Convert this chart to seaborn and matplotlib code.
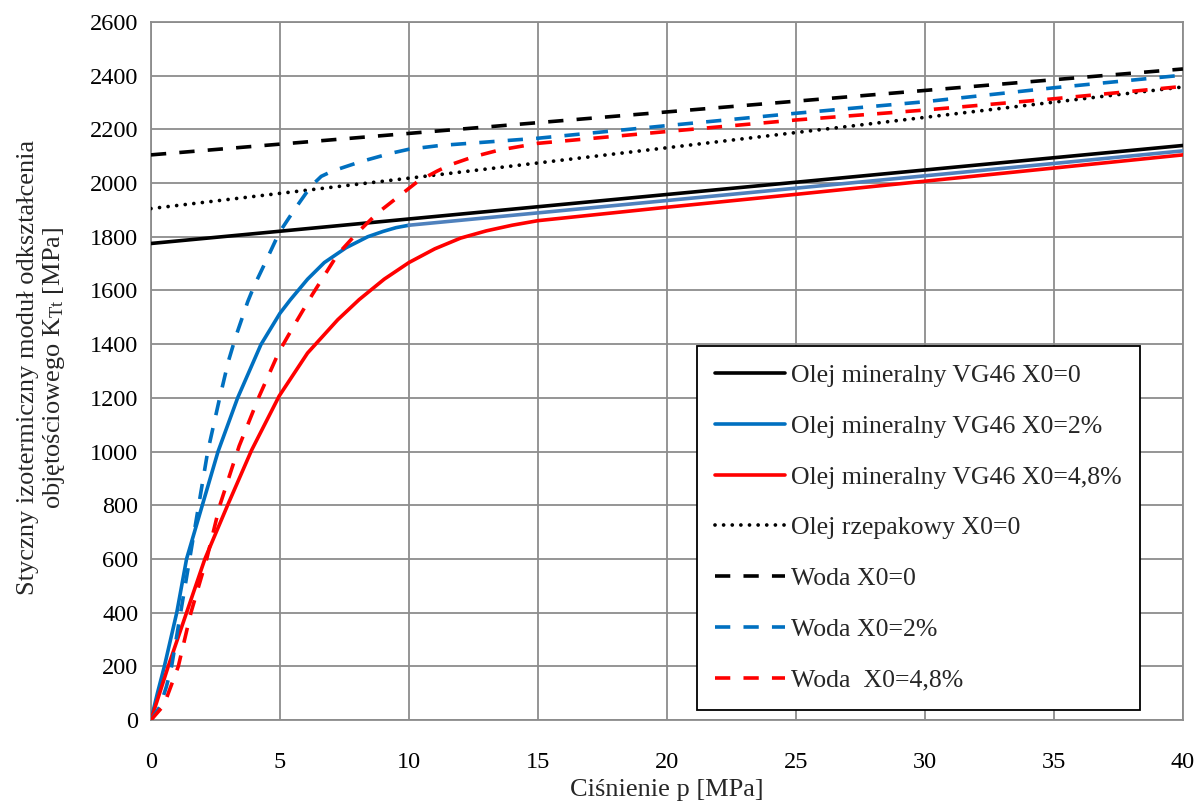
"""
Styczny izotermiczny moduł odkształcenia objętościowego vs ciśnienie
"""

import numpy as np
import pandas as pd
import matplotlib
matplotlib.use("Agg")
import matplotlib.pyplot as plt
import seaborn as sns

# Data (p [MPa], K_Tt [MPa])
p_lin = [0, 40]
k_mineral_0 = [1775, 2140]
k_rapeseed_0 = [1905, 2358]
k_water_0 = [2105, 2425]

p_mineral_2 = [0, 0.25, 0.52, 1.0, 1.38, 1.99, 2.6, 3.36, 4.26, 5.0, 5.4, 6.07, 6.72,
               7.56, 8.4, 9.0, 9.5, 10.0]
k_mineral_2 = [0, 100, 200, 400, 600, 800, 1000, 1200, 1398, 1515, 1565, 1642, 1704,
               1759, 1800, 1820, 1834, 1843]
p_mineral_2_tail = [10, 15, 20, 25, 30, 35, 40]
k_mineral_2_tail = [1843, 1889, 1935, 1981, 2027, 2073, 2120]

p_mineral_48 = [0, 0.67, 1.38, 2.09, 2.97, 3.9, 4.97, 6.07, 7.24, 8.07, 9.04, 10.0,
                11.0, 12.0, 13.0, 14.0, 15.0, 20, 25, 30, 35, 40]
k_mineral_48 = [0, 200, 400, 600, 800, 1005, 1207, 1367, 1491, 1566, 1642, 1704,
                1755, 1795, 1822, 1843, 1860, 1910, 1958, 2007, 2056, 2105]

p_water_2 = [0, 0.35, 0.6, 0.8, 1.15, 1.5, 1.85, 2.2, 2.65, 3.0, 3.29, 3.75, 4.0, 4.46,
             4.97, 5.56, 6.2, 6.6, 7.04, 8.14, 9.3, 10.0, 11.2, 15, 20, 25, 30, 35, 40]
k_water_2 = [0, 50, 125, 200, 400, 600, 800, 1000, 1194, 1336, 1429, 1558, 1617, 1710,
             1815, 1901, 1988, 2025, 2045, 2080, 2111, 2126, 2140, 2167, 2214, 2260,
             2303, 2355, 2402]

p_water_48 = [0, 0.5, 1.06, 1.55, 2.16, 2.67, 3.42, 4.2, 4.97, 5.56, 6.25, 7.24, 8.0,
              8.79, 9.69, 10.34, 11.1, 11.6, 12.5, 13.5, 15, 20, 25, 30, 35, 40]
k_water_48 = [0, 55, 200, 400, 600, 800, 1021, 1207, 1373, 1472, 1584, 1735, 1815,
              1889, 1957, 2006, 2045, 2068, 2098, 2123, 2148, 2192, 2235, 2272, 2314,
              2360]

series_names = [
    "Olej mineralny VG46 X0=0",
    "Olej mineralny VG46 X0=2%",
    "Olej mineralny VG46 X0=4,8%",
    "Olej rzepakowy X0=0",
    "Woda X0=0",
    "Woda X0=2%",
    "Woda  X0=4,8%",
]

BLUE = "#0070C0"
RED = "#FF0000"

sns.set_style("white")
plt.rcParams["font.family"] = ["Liberation Serif", "DejaVu Serif"]
plt.rcParams["mathtext.fontset"] = "custom"
plt.rcParams["mathtext.rm"] = "Liberation Serif"
plt.rcParams["mathtext.it"] = "Liberation Serif:italic"
plt.rcParams["lines.scale_dashes"] = False

fig = plt.figure(figsize=(12, 8.02), dpi=100)
ax = fig.add_axes([0.1258, 0.1022, 0.86, 0.8704])

grid_col = "#8C8C8C"
lw = 2.6
dash = (11, 9.5)


def draw(px, ky, label, color, dashes=None, lwid=lw):
    df = pd.DataFrame({"p": px, "k": ky})
    sns.lineplot(data=df, x="p", y="k", ax=ax, color=color, linewidth=lwid,
                 label=label, sort=False, estimator=None, zorder=3)
    line = ax.get_lines()[-1]
    line.set_solid_joinstyle("round")
    if dashes is not None:
        line.set_dashes(dashes)
    return line


draw(p_lin, k_mineral_0, series_names[0], "black")
draw(p_mineral_2, k_mineral_2, series_names[1], BLUE)
draw(p_mineral_2_tail, k_mineral_2_tail, "_nolegend_", "#4F81BD")
draw(p_mineral_48, k_mineral_48, series_names[2], RED)
dots = draw(p_lin, k_rapeseed_0, series_names[3], "black", dashes=(0.01, 6.2), lwid=2.7)
dots.set_dash_capstyle("round")
draw(p_lin, k_water_0, series_names[4], "black", dashes=dash)
draw(p_water_2, k_water_2, series_names[5], BLUE, dashes=dash)
draw(p_water_48, k_water_48, series_names[6], RED, dashes=dash)

ax.set_xlim(0, 40)
ax.set_ylim(0, 2600)
ax.set_xticks(np.arange(0, 41, 5))
ax.set_yticks(np.arange(0, 2601, 200))
ax.grid(True, color=grid_col, lw=1.3)
ax.set_axisbelow(True)
for s in ax.spines.values():
    s.set_color(grid_col)
    s.set_linewidth(1.3)
ax.tick_params(axis="both", length=0, labelsize=17.5, colors="black")
ax.tick_params(axis="x", pad=23)
ax.tick_params(axis="y", pad=9)

ax.set_xlabel("Ciśnienie p [MPa]", fontsize=19)
ax.xaxis.set_label_coords(0.5, -0.084)
ax.set_ylabel("Styczny izotermiczny moduł odkształcenia\n"
              "objętościowego K$_{\\mathrm{Tt}}$ [MPa]", fontsize=19,
              linespacing=1.15)
ax.yaxis.set_label_coords(-0.081, 0.505)

leg = ax.legend(loc="lower left", bbox_to_anchor=(0.529, 0.0143), fontsize=18.5,
                frameon=True, fancybox=False, edgecolor="black", framealpha=1,
                handlelength=2.7, handletextpad=0.25, labelspacing=1.08,
                borderpad=0.72, borderaxespad=0)
leg.get_frame().set_linewidth(1.3)
leg.set_zorder(5)

fig.savefig("out.png", dpi=100)
plt.close(fig)
